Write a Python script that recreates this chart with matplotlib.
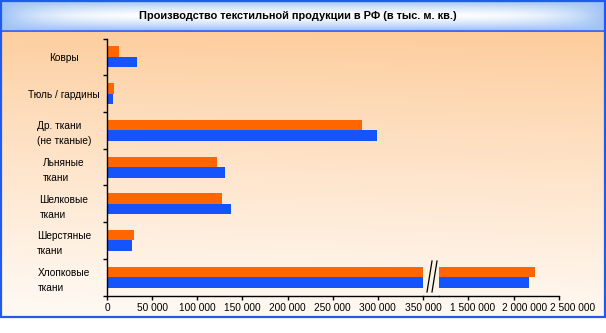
import numpy as np
import matplotlib.pyplot as plt
import matplotlib.transforms as mtransforms
from matplotlib.lines import Line2D
from matplotlib.patches import Rectangle

plt.rcParams['font.family'] = ['Liberation Sans', 'DejaVu Sans']

title = 'Производство текстильной продукции в РФ (в тыс. м. кв.)'
categories = ['Ковры', 'Тюль / гардины', 'Др. ткани\n(не тканые)', 'Льняные\nткани',
              'Шелковые\nткани', 'Шерстяные\nткани', 'Хлопковые\nткани']
series_a = [13300, 7800, 282000, 122000, 127000, 30000, 2236000]   # orange
series_b = [33300, 6700, 299000, 131000, 137000, 27800, 2170000]   # blue
left_ticks = [0, 50000, 100000, 150000, 200000, 250000, 300000, 350000]
right_ticks = [1500000, 2000000, 2500000]

ORANGE = '#FF6600'
BLUE = '#1454FA'
FRAME = '#1F5BEF'

W, H = 606, 333


def fmt(v):
    return f'{v:,}'.replace(',', ' ')


fig = plt.figure(figsize=(W / 100, H / 100), dpi=100)

# background: title band + warm gradient body, drawn in pixel coords
bg = fig.add_axes([0, 0, 1, 1], zorder=0)
bg.set_xlim(0, W)
bg.set_ylim(H, 0)
bg.axis('off')

yy = np.linspace(0, 1, 200)[:, None]
xx = np.linspace(0, 1, 300)[None, :]
top = np.array([253, 203, 153]) / 255
bot = np.array([255, 248, 241]) / 255
t = np.clip(yy ** 0.85 + 0.05 * (1 - xx), 0, 1)
body = top * (1 - t[..., None]) + bot * t[..., None]
body = np.broadcast_to(body, (200, 300, 3))
bg.imshow(body, extent=(1, W - 1, 317, 31), aspect='auto', zorder=0)

ty = np.linspace(-1, 1, 60)[:, None]
tx = np.linspace(-1, 1, 300)[None, :]
mix = np.clip(1 - np.abs(ty) ** 1.4, 0, 1) * np.clip(1 - np.abs(tx) ** 6, 0, 1)
blue_edge = np.array([160, 195, 245]) / 255
band = blue_edge * (1 - mix[..., None]) + np.ones(3) * mix[..., None]
bg.imshow(band, extent=(1, W - 1, 30, 1), aspect='auto', zorder=1)

bg.add_patch(Rectangle((1, 1), W - 2.5, 316, fill=False, ec=FRAME, lw=1.6, zorder=3))
bg.add_line(Line2D([1, W - 1], [30.5, 30.5], color=FRAME, lw=1.2, zorder=3))
bg.text(W / 2 - 5, 16, title, ha='center', va='center', fontsize=7.9,
        fontweight='bold', color='black', zorder=4)

# plot area split into two axes around the break
y = np.arange(len(categories))
h = 0.285
top_px, bottom_px = 38.6, 295.5
ax_h = (bottom_px - top_px) / H
ax_y = 1 - bottom_px / H

axl = fig.add_axes([107 / W, ax_y, (423 - 107) / W, ax_h], zorder=2)
axr = fig.add_axes([439 / W, ax_y, (559 - 439) / W, ax_h], zorder=2)

for ax in (axl, axr):
    ax.set_facecolor('none')
    ax.barh(y - h / 2, series_a, height=h, color=ORANGE)
    ax.barh(y + h / 2, series_b, height=h, color=BLUE)
    ax.set_ylim(len(categories) - 0.5, -0.5)
    for s in ('top', 'right'):
        ax.spines[s].set_visible(False)
    ax.spines['bottom'].set_linewidth(1.0)
    ax.tick_params(axis='x', length=3, width=1, labelsize=7.3, pad=2.5)

axl.set_xlim(0, 350000)
axl.set_xticks(left_ticks)
axl.set_xticklabels([fmt(v) for v in left_ticks])
axl.set_yticks(y)
axl.set_yticklabels(categories, ha='center', multialignment='left',
                    fontsize=7.3, linespacing=1.6)
axl.tick_params(axis='y', which='major', length=0, pad=31)
axl.set_yticks(np.arange(len(categories) + 1) - 0.5, minor=True)
axl.tick_params(axis='y', which='minor', length=3, width=1)
axl.spines['left'].set_linewidth(1.0)

axr.set_xlim(1180000, 2500000)
axr.set_xticks(right_ticks)
axr.set_xticklabels([fmt(v) for v in right_ticks])
axr.spines['left'].set_visible(False)
axr.set_yticks([])

# the labels past the break sit a little right of their ticks
for lbl, dx in zip(axr.get_xticklabels(), (4, 11, 14)):
    lbl.set_transform(lbl.get_transform() +
                      mtransforms.ScaledTranslation(dx / 100, 0, fig.dpi_scale_trans))

# axis line across the gap and the break marks
bg.add_line(Line2D([423, 439], [bottom_px, bottom_px], color='black', lw=1.0, zorder=5))
for x0 in (427, 432):
    bg.add_line(Line2D([x0, x0 + 5], [292, 261], color='black', lw=0.9, zorder=5))

fig.savefig('out.png', dpi=100)
